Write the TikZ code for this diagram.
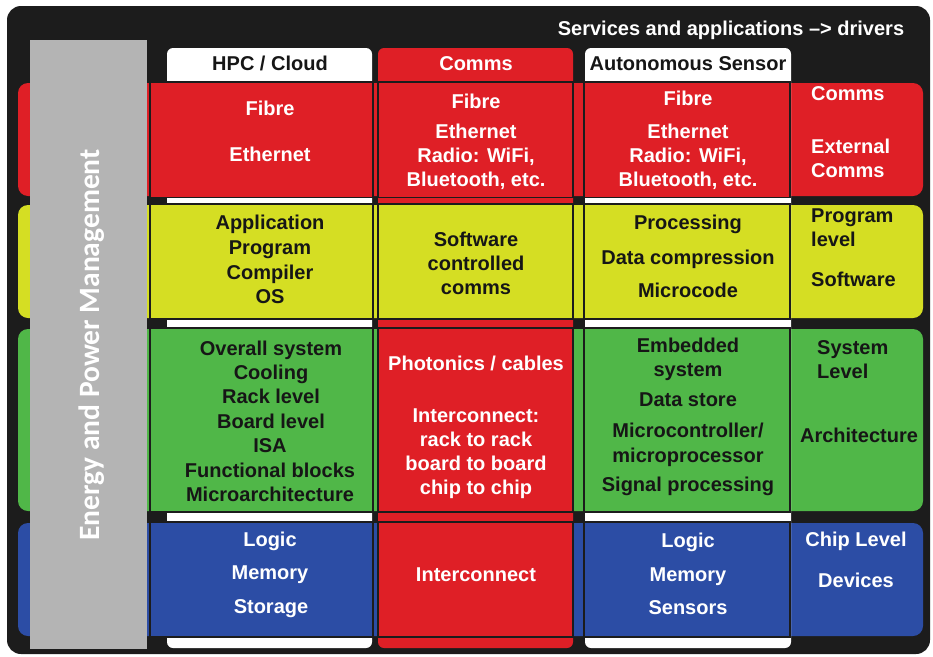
\documentclass[tikz,border=0pt]{standalone}
\usepackage{fontspec}
\setmainfont{Liberation Sans}
\newfontfamily\sidefont{Carlito}
\definecolor{bgk}{HTML}{1C1C1C}
\definecolor{cred}{HTML}{DF1F26}
\definecolor{cyel}{HTML}{D5DE23}
\definecolor{cgrn}{HTML}{50B748}
\definecolor{cblu}{HTML}{2C4DA5}
\definecolor{cgray}{HTML}{B4B4B4}
\definecolor{inkc}{HTML}{161616}
\begin{document}
\begin{tikzpicture}[x=1pt,y=-1pt,
  txt/.style={anchor=base, inner sep=0pt, font=\fontsize{20}{24}\selectfont\bfseries},
  wt/.style={txt, text=white},
  bt/.style={txt, text=inkc},
  cellbox/.style={draw=bgk, line width=1.8pt},
  band/.style={rounded corners=10pt},
  colbg/.style={rounded corners=6pt}]

\fill[white] (0,0) rectangle (933,656);
\useasboundingbox (0,0) rectangle (933,656);
\fill[bgk, rounded corners=14pt] (7,6) rectangle (930,654);

% row bands
\fill[band, cred] (18,83) rectangle (923,196);
\fill[band, cyel] (18,205) rectangle (923,318);
\fill[band, cgrn] (18,329) rectangle (923,511);
\fill[band, cblu] (18,523) rectangle (923,636);

% column backgrounds / tabs
\fill[colbg, white] (167,48) rectangle (372,648);
\fill[colbg, cred] (378,48) rectangle (573,648);
\fill[colbg, white] (585,48) rectangle (791,648);

% HPC cells
\filldraw[cellbox, fill=cred] (150,82) rectangle (373,197.5);
\filldraw[cellbox, fill=cyel] (150,204) rectangle (373,319);
\filldraw[cellbox, fill=cgrn] (150,328) rectangle (373,512);
\filldraw[cellbox, fill=cblu] (150,522) rectangle (373,637);
% Comms cells
\filldraw[cellbox, fill=cred] (378,82) rectangle (573,197.5);
\filldraw[cellbox, fill=cyel] (378,204) rectangle (573,319);
\filldraw[cellbox, fill=cred] (378,328) rectangle (573,512);
\filldraw[cellbox, fill=cred] (378,522) rectangle (573,637);
% Sensor cells
\filldraw[cellbox, fill=cred] (584,82) rectangle (790,197.5);
\filldraw[cellbox, fill=cyel] (584,204) rectangle (790,319);
\filldraw[cellbox, fill=cgrn] (584,328) rectangle (790,512);
\filldraw[cellbox, fill=cblu] (584,522) rectangle (790,637);

% energy bar
\fill[cgray] (30,40) rectangle (147,649);
\node[anchor=base, inner sep=0pt, rotate=90, text=white, font=\sidefont\fontsize{29.5}{30}\selectfont\bfseries] (energy) at (99,345) {Energy and Power Management};

% title and headers
\node[wt] (title) at (731,35) {Services and applications –> drivers};
\node[bt] (hhpc) at (270,70) {HPC / Cloud};
\node[wt] (hcom) at (476,70) {Comms};
\node[bt] (hsen) at (688,70) {Autonomous Sensor};

% red row
\node[wt] (a1) at (270,115) {Fibre};
\node[wt] (a2) at (270,161) {Ethernet};
\node[wt] (b1) at (476,108) {Fibre};
\node[wt] (b2) at (476,138) {Ethernet};
\node[wt] (b3) at (476,162) {Radio: WiFi,};
\node[wt] (b4) at (476,186) {Bluetooth, etc.};
\node[wt] (c1) at (688,105) {Fibre};
\node[wt] (c2) at (688,138) {Ethernet};
\node[wt] (c3) at (688,162) {Radio: WiFi,};
\node[wt] (c4) at (688,186) {Bluetooth, etc.};
\node[wt, anchor=base west] (d1) at (811,100) {Comms};
\node[wt, anchor=base west] (d2) at (811,153) {External};
\node[wt, anchor=base west] (d3) at (811,177) {Comms};

% yellow row
\node[bt] (e1) at (270,229) {Application};
\node[bt] (e2) at (270,254) {Program};
\node[bt] (e3) at (270,279) {Compiler};
\node[bt] (e4) at (270,303) {OS};
\node[bt] (f1) at (476,246) {Software};
\node[bt] (f2) at (476,270) {controlled};
\node[bt] (f3) at (476,294) {comms};
\node[bt] (g1) at (688,229) {Processing};
\node[bt] (g2) at (688,264) {Data compression};
\node[bt] (g3) at (688,297) {Microcode};
\node[bt, anchor=base west] (h1) at (811,222) {Program};
\node[bt, anchor=base west] (h2) at (811,246) {level};
\node[bt, anchor=base west] (h3) at (811,286) {Software};

% green row
\node[bt] (i1) at (271,355) {Overall system};
\node[bt] (i2) at (271,379) {Cooling};
\node[bt] (i3) at (271,403) {Rack level};
\node[bt] (i4) at (271,428) {Board level};
\node[bt] (i5) at (270,452) {ISA};
\node[bt] (i6) at (270,477) {Functional blocks};
\node[bt] (i7) at (270,501) {Microarchitecture};
\node[wt] (j1) at (476,370) {Photonics / cables};
\node[wt] (j2) at (476,422) {Interconnect:};
\node[wt] (j3) at (476,446) {rack to rack};
\node[wt] (j4) at (476,470) {board to board};
\node[wt] (j5) at (476,494) {chip to chip};
\node[bt] (k1) at (688,352) {Embedded};
\node[bt] (k2) at (688,376) {system};
\node[bt] (k3) at (688,406) {Data store};
\node[bt] (k4) at (688,437) {Microcontroller/};
\node[bt] (k5) at (688,462) {microprocessor};
\node[bt] (k6) at (688,491) {Signal processing};
\node[bt, anchor=base west] (l1) at (817,354) {System};
\node[bt, anchor=base west] (l2) at (817,378) {Level};
\node[bt] (l3) at (859,442) {Architecture};

% blue row
\node[wt] (m1) at (270,546) {Logic};
\node[wt] (m2) at (270,579) {Memory};
\node[wt] (m3) at (271,613) {Storage};
\node[wt] (n1) at (476,581) {Interconnect};
\node[wt] (o1) at (688,547) {Logic};
\node[wt] (o2) at (688,581) {Memory};
\node[wt] (o3) at (688,614) {Sensors};
\node[wt] (p1) at (856,546) {Chip Level};
\node[wt] (p2) at (856,587) {Devices};
\end{tikzpicture}
\end{document}
